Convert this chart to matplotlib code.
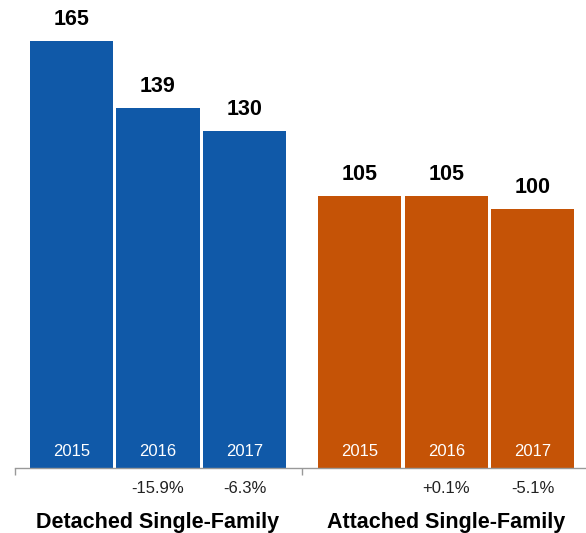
import matplotlib
matplotlib.use("Agg")
import matplotlib.pyplot as plt

# Median sales price by housing type (thousands)
groups = ["Detached Single-Family", "Attached Single-Family"]
years = ["2015", "2016", "2017"]
detached = [165, 139, 130]
attached = [105, 105, 100]
detached_change = ["", "-15.9%", "-6.3%"]
attached_change = ["", "+0.1%", "-5.1%"]

BLUE = "#1059A8"
ORANGE = "#C55306"
FONT = "Liberation Sans"

W, H, DPI = 586, 533, 100
fig = plt.figure(figsize=(W / DPI, H / DPI), dpi=DPI)
ax = fig.add_axes([15 / W, 65 / H, 571 / W, 468 / H])

group_gap = 1.335
pos1 = [0, 1, 2]
pos2 = [p + 2 + group_gap for p in pos1]
bar_w = 0.96

series = [
    (pos1, detached, detached_change, BLUE),
    (pos2, attached, attached_change, ORANGE),
]

for pos, vals, changes, color in series:
    ax.bar(pos, vals, width=bar_w, color=color, linewidth=0)
    for x, v, yr, ch in zip(pos, vals, years, changes):
        ax.annotate(str(v), (x, v), xytext=(0, 8), textcoords="offset points",
                    ha="center", va="bottom", fontsize=15.5, fontweight="bold",
                    family=FONT, color="black")
        ax.annotate(yr, (x, 0), xytext=(0, 12), textcoords="offset points",
                    ha="center", va="center", fontsize=12, family=FONT,
                    color="white")
        if ch:
            ax.annotate(ch, (x, 0), xytext=(0, -15), textcoords="offset points",
                        ha="center", va="center", fontsize=12, family=FONT,
                        color="#222222")

for pos, name in zip([pos1, pos2], groups):
    ax.annotate(name, (pos[1], 0), xytext=(0, -39), textcoords="offset points",
                ha="center", va="center", fontsize=15.5, fontweight="bold",
                family=FONT, color="black")

ax.set_xlim(-0.653, 5.948)
ax.set_ylim(0, 180.8)

for side in ["top", "right", "left"]:
    ax.spines[side].set_visible(False)
ax.spines["bottom"].set_color("#999999")
ax.spines["bottom"].set_linewidth(1)
ax.set_yticks([])
ax.set_xticks([-0.653, 2.665])
ax.set_xticklabels([])
ax.tick_params(axis="x", length=5, color="#999999", width=1, direction="out")

fig.savefig("out.png", dpi=DPI)
